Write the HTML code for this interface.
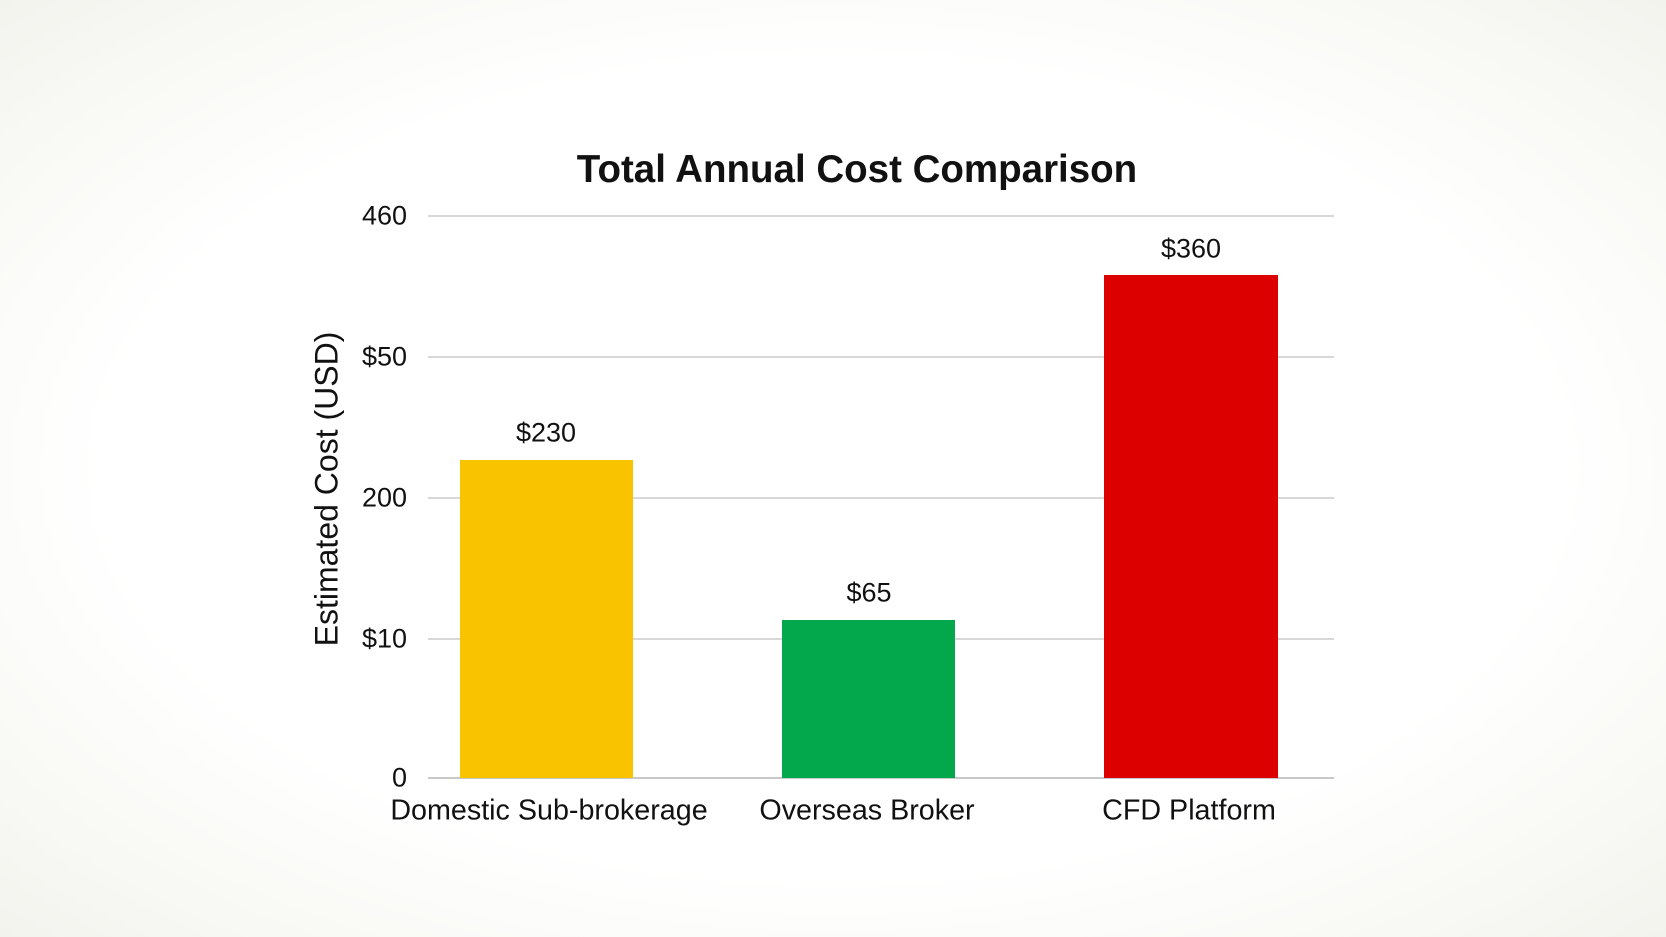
<!DOCTYPE html>
<html><head><style>
html,body{margin:0;padding:0}
body{width:1666px;height:937px;position:relative;overflow:hidden;font-family:"Liberation Sans",sans-serif;
background:radial-gradient(ellipse at center,#ffffff 62%,#f8f8f4 85%,#f3f3ee 100%);}
.t{position:absolute;white-space:nowrap;color:#111}
.g{position:absolute;left:428px;width:906px;height:1.5px;background:#d8d8d8}
.b{position:absolute}
.yl{position:absolute;right:1259px;font-size:27px;color:#111;transform:translateY(-50%)}
.vl{position:absolute;font-size:27px;transform:translate(-50%,-50%);color:#111}
.xl{position:absolute;font-size:28.7px;transform:translate(-50%,-50%);top:811px;color:#111;white-space:nowrap}
</style></head><body>
<div class="t" style="left:857px;top:170px;transform:translate(-50%,-50%);font-size:38.5px;font-weight:bold">Total Annual Cost Comparison</div>
<div class="g" style="top:215px"></div>
<div class="g" style="top:356px"></div>
<div class="g" style="top:497px"></div>
<div class="g" style="top:638px"></div>
<div class="g" style="top:777px;height:2px;background:#c8c8c8"></div>
<div class="yl" style="top:216px">460</div>
<div class="yl" style="top:357px">$50</div>
<div class="yl" style="top:498px">200</div>
<div class="yl" style="top:639px">$10</div>
<div class="yl" style="top:778px">0</div>
<div class="t" style="left:327px;top:489px;transform:translate(-50%,-50%) rotate(-90deg);font-size:32px">Estimated Cost (USD)</div>
<div class="b" style="left:460px;top:460px;width:173px;height:318px;background:#fac300"></div>
<div class="b" style="left:782px;top:620px;width:173px;height:158px;background:#04a84c"></div>
<div class="b" style="left:1104px;top:275px;width:174px;height:503px;background:#dd0000"></div>
<div class="vl" style="left:546px;top:433px">$230</div>
<div class="vl" style="left:869px;top:593px">$65</div>
<div class="vl" style="left:1191px;top:249px">$360</div>
<div class="xl" style="left:549px">Domestic Sub-brokerage</div>
<div class="xl" style="left:867px">Overseas Broker</div>
<div class="xl" style="left:1189px">CFD Platform</div>
</body></html>
